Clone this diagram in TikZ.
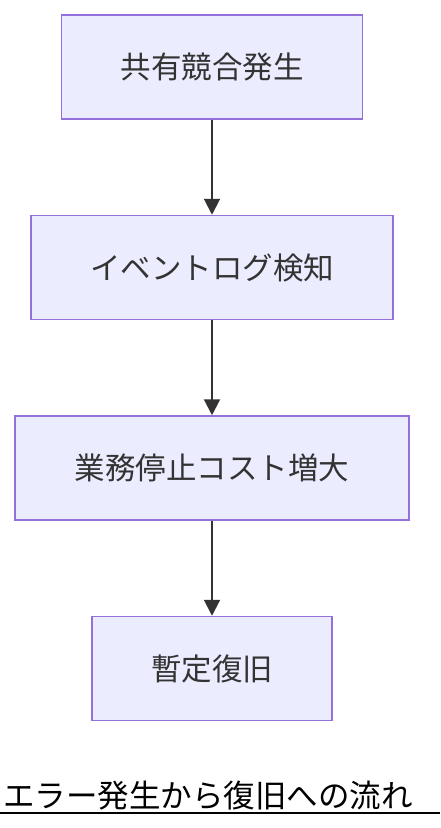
\documentclass[tikz,border=0pt]{standalone}
\usepackage{fontspec}
\setmainfont{Noto Sans CJK JP}
\usepackage{xcolor}
\usepackage{tikz}
\usetikzlibrary{positioning,arrows.meta}

\definecolor{boxfill}{HTML}{ECECFF}
\definecolor{boxline}{HTML}{9370DB}
\definecolor{inkgray}{HTML}{333333}

\begin{document}
\begin{tikzpicture}[
    ->,>={Triangle[length=16pt,width=16pt]},
    node distance=200.5pt,
    stage/.style={rectangle,draw=boxline,fill=boxfill,line width=1.5pt,minimum height=104pt,
        align=center,text=inkgray,font=\fontsize{30.5pt}{36pt}\selectfont},
    every edge/.style={draw=inkgray,line width=2pt}
]
    \useasboundingbox (0,0) rectangle (440pt,-828pt);
    % Stages
    \node[stage,minimum width=301pt] (CONFLICT) at (212pt,-67pt) {共有競合発生};
    \node[stage,minimum width=362pt] (DETECT) [below of=CONFLICT] {イベントログ検知};
    \node[stage,minimum width=394pt] (COST) [below of=DETECT] {業務停止コスト増大};
    \node[stage,minimum width=240pt] (RECOVER) [below of=COST] {暫定復旧};

    % Flow
    \path (CONFLICT) edge (DETECT);
    \path (DETECT) edge (COST);
    \path (COST) edge (RECOVER);

    % Caption
    \node[anchor=base west,inner sep=0pt,text=black,font=\fontsize{31.5pt}{36pt}\selectfont] (CAPTION) at (3pt,-807pt) {エラー発生から復旧への流れ};
    \coordinate (ULEFT) at (0pt,-813pt);
    \coordinate (URIGHT) at (440pt,-813pt);
    \draw[-,line width=1.8pt,black] (ULEFT) -- (URIGHT);
\end{tikzpicture}
\end{document}
